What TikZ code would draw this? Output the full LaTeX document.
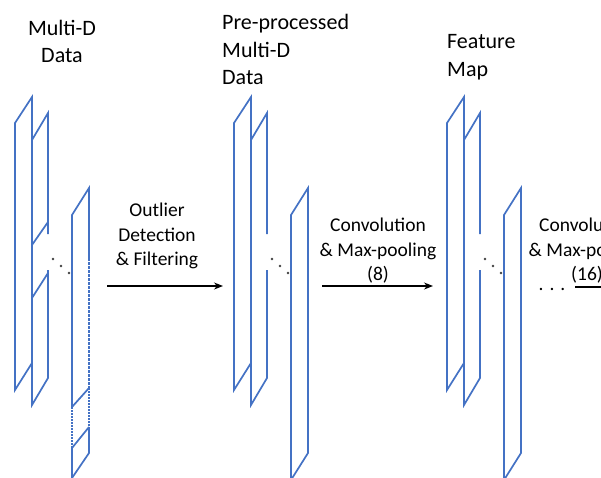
\documentclass[tikz,border=0pt]{standalone}
\usepackage{fontspec}
\setmainfont{Carlito}
\usetikzlibrary{arrows.meta}
\definecolor{panelblue}{RGB}{68,114,196}
\tikzset{
    panel/.style={draw=panelblue, line width=1.7pt},
    cutedge/.style={panel, dash pattern=on 1.6pt off 1.4pt},
    faintedge/.style={panel, dash pattern=on 3pt off 1pt},
    flow/.style={-{Stealth[length=9pt,width=7pt]}, line width=1.4pt, black},
    title/.style={inner sep=0pt, font=\fontsize{22}{27.5}\selectfont},
    steplabel/.style={inner sep=0pt, align=center, font=\fontsize{19.5}{24.5}\selectfont},
    gapdot/.style={fill=black!75, draw=none},
}

\begin{document}
\begin{tikzpicture}[x=1pt, y=-1pt]
        \useasboundingbox (0,0) rectangle (601,478);
        \clip (0,0) rectangle (601,478);

        \node[title, align=center, anchor=north] (rawtitle) at (62,20) {Multi-D\\Data};
        \node[title, align=left, anchor=north west] (cleantitle) at (222,14.5) {Pre-processed\\Multi-D\\Data};
        \node[title, align=left, anchor=north west] (maptitle) at (447,34.5) {Feature\\Map};

        % front two sheets of every stack
        \foreach \gx in {15,234,447} {
            \draw[panel] (\gx,123) -- (\gx+17,97) -- (\gx+17,363) -- (\gx,390) -- cycle;
            \draw[panel] (\gx+33,234) -- (\gx+33,113) -- (\gx+17,140) -- (\gx+17,405)
                -- (\gx+33,378) -- (\gx+33,270);
            \fill[gapdot] (\gx+38,259) circle (1.3);
            \fill[gapdot] (\gx+46,266) circle (1.3);
            \fill[gapdot] (\gx+54,273) circle (1.3);
        }

        % last sheet
        \foreach \gx in {234,447} {
            \draw[panel] (\gx+57,215) -- (\gx+74,188) -- (\gx+74,453) -- (\gx+57,480) -- cycle;
        }

        % raw data: cut sheets
        \draw[panel] (32,245) -- (48,222);
        \draw[panel] (32,298) -- (48,273);

        \draw[panel] (72,407) -- (72,215) -- (89,188) -- (89,258);
        \draw[faintedge] (89,258) -- (89,388);
        \draw[cutedge] (89,388) -- (89,427);
        \draw[cutedge] (72,407) -- (72,448);
        \draw[panel] (72,407) -- (89,388);
        \draw[panel] (89,427) -- (72,448) -- (72,480);
        \draw[panel] (89,427) -- (89,453) -- (72,478);

        % steps
        \node[steplabel, anchor=north] (cleanlabel) at (157,203) {Outlier\\Detection\\\& Filtering};
        \node[steplabel, anchor=north] (convlabel) at (378,218) {Convolution\\\& Max-pooling\\(8)};
        \node[steplabel, anchor=north] (nextlabel) at (587,218) {Convolution\\\& Max-pooling\\(16)};
        \node[steplabel, anchor=base] (moredots) at (552,290) {. . .};

        \coordinate (cleanin) at (107,286);
        \coordinate (cleanout) at (223,286);
        \coordinate (convin) at (322,286);
        \coordinate (convout) at (433,286);
        \coordinate (nextin) at (575,287);
        \coordinate (nextout) at (660,287);

        \begin{scope}[flow]
            \draw (cleanin) -- (cleanout);
            \draw (convin) -- (convout);
            \draw (nextin) -- (nextout);
        \end{scope}

    \end{tikzpicture}
\end{document}
